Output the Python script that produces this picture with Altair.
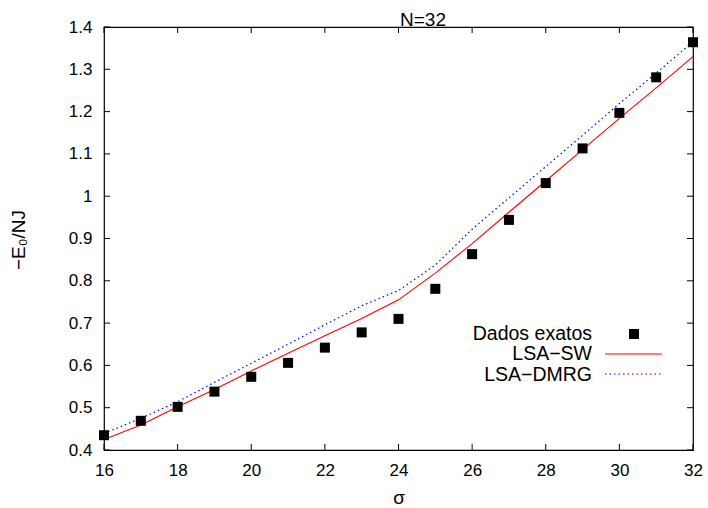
import altair as alt
import pandas as pd

# ---- data ----
sigma = list(range(16, 33))
exact = [0.435, 0.469, 0.502, 0.538, 0.573, 0.606, 0.642, 0.678, 0.710,
         0.781, 0.863, 0.944, 1.031, 1.113, 1.197, 1.281, 1.364]
lsa_sw = [0.425, 0.459, 0.502, 0.543, 0.587, 0.629, 0.670, 0.711, 0.755,
          0.818, 0.888, 0.962, 1.036, 1.110, 1.184, 1.256, 1.330]
lsa_dmrg = [0.439, 0.475, 0.514, 0.560, 0.605, 0.650, 0.696, 0.741, 0.777,
            0.837, 0.922, 0.996, 1.070, 1.144, 1.219, 1.291, 1.365]
x_ticks = [16, 18, 20, 22, 24, 26, 28, 30, 32]
y_ticks = [0.4, 0.5, 0.6, 0.7, 0.8, 0.9, 1.0, 1.1, 1.2, 1.3, 1.4]
legend_labels = ["Dados exatos", "LSA\u2212SW", "LSA\u2212DMRG"]
title_text = "N=32"
x_title = "\u03c3"
y_title = "\u2212E\u2080/NJ"

FONT = "Liberation Sans"
W, H = 589, 423

df = pd.DataFrame({"sigma": sigma, "exact": exact, "sw": lsa_sw, "dmrg": lsa_dmrg})
xt = pd.DataFrame({"sigma": x_ticks})
yt = pd.DataFrame({"v": y_ticks})

xscale = alt.Scale(domain=[16, 32], nice=False, zero=False)
yscale = alt.Scale(domain=[0.4, 1.4], nice=False, zero=False)

xaxis = alt.Axis(values=x_ticks, title=None, ticks=False, domain=False, grid=False,
                 labelFont=FONT, labelFontSize=17, labelColor="black", labelPadding=12,
                 labelFlush=False)
yaxis = alt.Axis(values=y_ticks, title=None, ticks=False, domain=False, grid=False,
                 format="~g", labelFont=FONT, labelFontSize=17, labelColor="black",
                 labelPadding=12, labelFlush=False)

base = alt.Chart(df)

sw_line = base.mark_line(color="#ff0000", strokeWidth=1.1).encode(
    x=alt.X("sigma:Q", scale=xscale, axis=xaxis),
    y=alt.Y("sw:Q", scale=yscale, axis=yaxis),
)
dmrg_line = base.mark_line(color="#0000ff", strokeWidth=1.2, strokeDash=[1.5, 3]).encode(
    x="sigma:Q", y="dmrg:Q"
)
points = base.mark_point(shape="square", filled=True, color="black", size=100, opacity=1).encode(
    x="sigma:Q", y="exact:Q"
)

# inward ticks on all four sides
tk = 6
xt_bottom = alt.Chart(xt).mark_rule(color="black", strokeWidth=1).encode(
    x="sigma:Q", y=alt.value(H), y2=alt.value(H - tk))
xt_top = alt.Chart(xt).mark_rule(color="black", strokeWidth=1).encode(
    x="sigma:Q", y=alt.value(0), y2=alt.value(tk))
yt_left = alt.Chart(yt).mark_rule(color="black", strokeWidth=1).encode(
    y=alt.Y("v:Q"), x=alt.value(0), x2=alt.value(tk))
yt_right = alt.Chart(yt).mark_rule(color="black", strokeWidth=1).encode(
    y=alt.Y("v:Q"), x=alt.value(W), x2=alt.value(W - tk))


def text_layer(s, x, y, align="center", baseline="alphabetic", angle=0, size=19):
    return alt.Chart(pd.DataFrame({"t": [s]})).mark_text(
        font=FONT, fontSize=size, color="black", align=align, baseline=baseline, angle=angle
    ).encode(text="t:N", x=alt.value(x), y=alt.value(y))


title_l = text_layer(title_text, 319, -1)
xtitle_l = text_layer(x_title, 295, 477)
ytitle_l = text_layer(y_title, -85, 213, baseline="middle", angle=270)

# legend (text right, sample left as in gnuplot)
leg_text = [
    text_layer(legend_labels[0], 488, 313, align="right", size=19.5),
    text_layer(legend_labels[1], 488, 333, align="right", size=19.5),
    text_layer(legend_labels[2], 488, 354, align="right", size=19.5),
]
leg_sq = alt.Chart(pd.DataFrame({"k": [legend_labels[0]]})).mark_point(
    shape="square", filled=True, color="black", size=100, opacity=1).encode(
    x=alt.value(530), y=alt.value(307))
leg_sw = alt.Chart(pd.DataFrame({"k": [legend_labels[1]]})).mark_rule(color="#ff0000", strokeWidth=1.1).encode(
    x=alt.value(501), x2=alt.value(558), y=alt.value(327))
leg_dm = alt.Chart(pd.DataFrame({"k": [legend_labels[2]]})).mark_rule(
    color="#0000ff", strokeWidth=1.2, strokeDash=[1.5, 3]).encode(
    x=alt.value(501), x2=alt.value(558), y=alt.value(347))

chart = alt.layer(
    sw_line, dmrg_line, points,
    xt_bottom, xt_top, yt_left, yt_right,
    title_l, xtitle_l, ytitle_l, *leg_text, leg_sq, leg_sw, leg_dm,
).properties(
    width=W, height=H,
    autosize=alt.AutoSizeParams(type="none"),
    padding={"left": 104, "top": 27, "right": 15, "bottom": 58},
    background="white",
).configure_view(
    stroke="black", strokeWidth=1.2
)

chart.save("out.html", embed_options={"renderer": "svg", "actions": False})
